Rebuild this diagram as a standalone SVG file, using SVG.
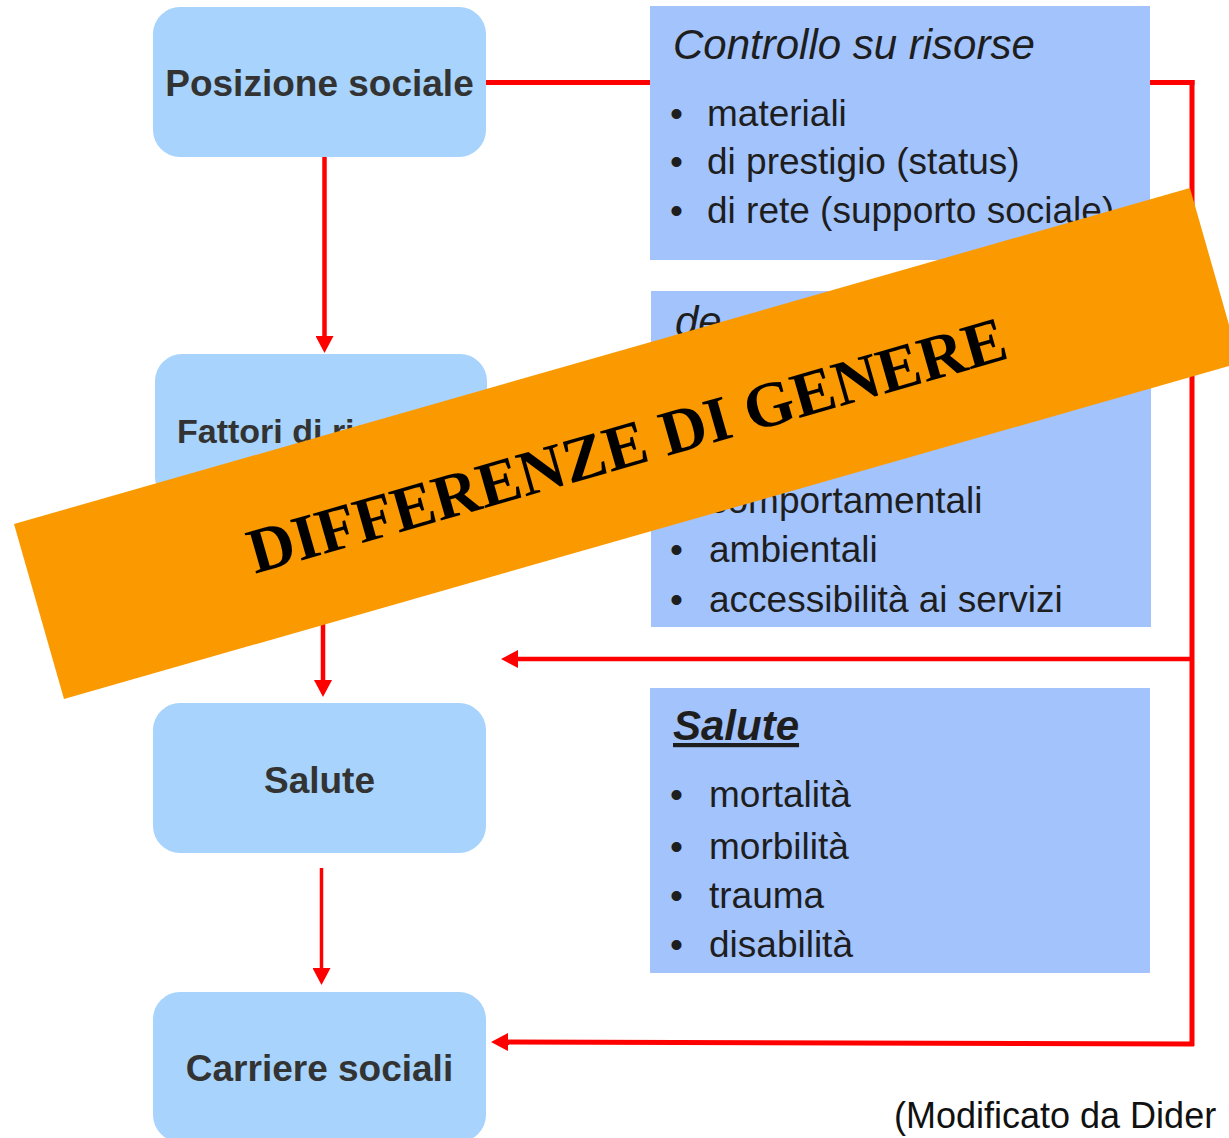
<svg xmlns="http://www.w3.org/2000/svg" width="1229" height="1138" viewBox="0 0 1229 1138">
  <defs>
    <marker id="arr" viewBox="0 0 17 18" refX="7" refY="9" markerWidth="17" markerHeight="18" markerUnits="userSpaceOnUse" orient="auto">
      <path d="M0,0 L17,9 L0,18 Z" fill="#FF0000"/>
    </marker>
    <style>
      .node rect { fill: #A7D3FC; }
      .node text { font-family: "Liberation Sans", Arial, sans-serif; font-weight: bold; fill: #333333; font-size: 37px; text-anchor: middle; }
      .panel rect { fill: #A3C3FD; }
      .panel text { font-family: "Liberation Sans", Arial, sans-serif; fill: #1E1E1E; font-size: 37px; }
      .panel .head { font-size: 42px; font-style: italic; }
      .conn { fill: none; stroke: #FF0000; }
      .banner text { font-family: "Liberation Serif", "Times New Roman", serif; font-weight: bold; font-size: 64px; fill: #000000; text-anchor: middle; }
    </style>
  </defs>
  <rect width="1229" height="1138" fill="#FFFFFF"/>

  <g id="node-posizione" class="node">
    <rect x="153" y="7" width="333" height="150" rx="27" ry="27"/>
    <text x="319.5" y="96">Posizione sociale</text>
  </g>
  <g id="node-fattori" class="node">
    <rect x="155" y="354" width="332" height="150" rx="27" ry="27"/>
    <text x="177" y="443" style="text-anchor:start;font-size:34px">Fattori di rischio</text>
  </g>
  <g id="node-salute" class="node">
    <rect x="153" y="703" width="333" height="150" rx="27" ry="27"/>
    <text x="319.5" y="793">Salute</text>
  </g>
  <g id="node-carriere" class="node">
    <rect x="153" y="992" width="333" height="150" rx="27" ry="27"/>
    <text x="319.5" y="1081">Carriere sociali</text>
  </g>

  <g id="connectors">
    <path class="conn" stroke-width="5" d="M486,82.5 H1194.5"/>
    <path class="conn" stroke-width="5" d="M1192,80 V1046"/>
    <path class="conn" stroke-width="4.5" d="M324.5,157 V343" marker-end="url(#arr)"/>
    <path class="conn" stroke-width="4.5" d="M323,504 V687" marker-end="url(#arr)"/>
    <path class="conn" stroke-width="3.5" d="M321.5,868 V975" marker-end="url(#arr)"/>
    <path class="conn" stroke-width="4.5" d="M1192,659 H511" marker-end="url(#arr)"/>
    <path class="conn" stroke-width="5" d="M1194,1044 L501,1042" marker-end="url(#arr)"/>
  </g>

  <g id="panel-risorse" class="panel">
    <rect x="650" y="6" width="500" height="254"/>
    <text class="head" x="673" y="59">Controllo su risorse</text>
    <text x="670" y="126">•</text><text x="707" y="126">materiali</text>
    <text x="670" y="174">•</text><text x="707" y="174">di prestigio (status)</text>
    <text x="670" y="223">•</text><text x="707" y="223">di rete (supporto sociale)</text>
  </g>
  <g id="panel-fattori" class="panel">
    <rect x="651" y="291" width="500" height="336"/>
    <text class="head" x="675" y="336">de</text>
    <text x="670" y="513">•</text><text x="709" y="513">comportamentali</text>
    <text x="670" y="562">•</text><text x="709" y="562">ambientali</text>
    <text x="670" y="612">•</text><text x="709" y="612">accessibilità ai servizi</text>
  </g>
  <g id="panel-salute" class="panel">
    <rect x="650" y="688" width="500" height="285"/>
    <text class="head" x="673" y="740" style="font-weight:bold;text-decoration:underline">Salute</text>
    <text x="670" y="807">•</text><text x="709" y="807">mortalità</text>
    <text x="670" y="859">•</text><text x="709" y="859">morbilità</text>
    <text x="670" y="908">•</text><text x="709" y="908">trauma</text>
    <text x="670" y="957">•</text><text x="709" y="957">disabilità</text>
  </g>

  <g id="source">
    <text x="894" y="1128" style="font-family:'Liberation Sans', Arial, sans-serif;font-size:36px;fill:#111111">(Modificato da Dider</text>
  </g>

  <g id="banner" class="banner" transform="translate(14,524) rotate(-15.95)">
    <rect x="0" y="0" width="1223" height="182" fill="#FA9A00"/>
    <text x="611" y="114">DIFFERENZE DI GENERE</text>
  </g>
</svg>
